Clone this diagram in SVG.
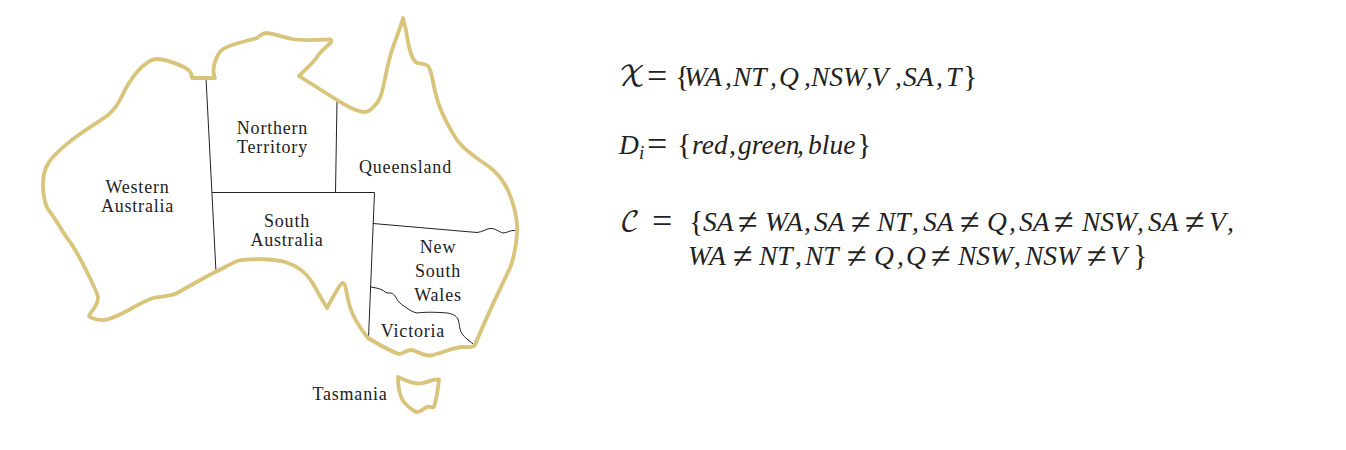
<svg xmlns="http://www.w3.org/2000/svg" width="1346" height="450" viewBox="0 0 1346 450">
<style>
.o{fill:none;stroke:#d9c47c;stroke-width:3.8;stroke-linejoin:round;stroke-linecap:round}
.b{fill:none;stroke:#222;stroke-width:1}
.l{font-family:"Liberation Serif",serif;font-size:18px;letter-spacing:.8px;fill:#222;text-anchor:middle}
.m{font-family:"Liberation Serif",serif;font-size:27.500px;fill:#222;font-style:italic}
.op{font-family:"Liberation Serif",serif;font-size:36px;fill:#222}
.br{font-family:"Liberation Serif",serif;font-size:30px;fill:#222}
.c{font-family:"DejaVu Math TeX Gyre","Liberation Serif",serif;font-style:normal}
</style>
<rect width="1346" height="450" fill="#fff"/>
<g id="borders">
<path class="b" d="M206 78L216 272"/>
<path class="b" d="M212 192.500H374.500L368.500 338"/>
<path class="b" d="M337 100L335.500 192.500"/>
<path class="b" d="M373 223.500L477 232.500C482 232 486 229 490 228.500C495 228 499 232 503 233C507 233 510 230 515 230.500"/>
<path class="b" d="M371 287C375 288 379 288 382 290C385 291 385 293 388 293C391 293 393 293 395 296C398 301 400 304 404 306C408 309 412 312 417 313C423 312 437 312 447 313C452 314 456 315 458 319C460 325 459 331 463 335C466 339 470 341 473 344"/>
</g>
<g id="mainland"><path class="o" d="M192 78L215 78C211 70 216 55 222 50C228 44 245 42 257 38C260 36 262 33 266 33C272 33 282 37 292 39C303 41 318 40 329 39.500C332 39.500 332 42 330 43.500C325 48 320 52 317 57C313 63 305 70 299 76L337 100C345 105 356 112 365 112C370 112 378 103 380 98C384 88 386 70 390 57C393 45 400 30 403 18C405 25 407 35 408 42C410 52 412 60 417 63C420 64 425 63 428 66C432 70 433 85 436 95C439 108 445 120 452 132C458 144 466 150 478 159C490 167 498 173 504 183C512 196 518 217 517 233C516 250 513 260 510 268C498 293 485 320 475 345C473 348 468 347 462 347C450 348 440 354 430 355.500C422 356 416 350 411 350C406 350 403 354 399 354C390 351 378 344 368 338C360 328 353 317 350 307C347 298 346 283 343 283C340 283 332 299 327 308C322 300 316 289 312 282C306 272 298 266 285 262C275 259 250 258 237 261C230 264 222 269 215 272C200 280 188 287 177 293C170 297 160 296 153 298C142 302 133 308 123 313C115 317 108 320 103 320C97 320 90 318 89 316C89 314 98 306 98 298C98 294 91 280 86 270C80 258 75 248 67 238C60 228 55 218 50 212C44 205 43 195 43 183C43 172 46 165 52 158C62 147 70 141 80 134C90 127 100 121 108 115C115 109 118 105 122 96C127 85 131 79 137 72C144 64 150 59 157 59C163 59 175 63 184 67C190 70 192 74 192 78Z"/></g>
<g id="tasmania"><path class="o" d="M398 377C405 380 411 383 418 383.500C425 384 431 379 439 379.500C438 388 437 398 434 407C431 408 429 406 427 407C423 409 420 412 416 412C411 409 405 405 402 399C399 393 398 385 398 377Z"/></g>
<g id="WA"><text class="l" x="137.500" y="193">Western</text><text class="l" x="137.500" y="212">Australia</text></g>
<g id="NT"><text class="l" x="272.500" y="133.500">Northern</text><text class="l" x="272.500" y="152.500">Territory</text></g>
<g id="Q"><text class="l" x="405.500" y="172.500">Queensland</text></g>
<g id="SA"><text class="l" x="287" y="227">South</text><text class="l" x="287" y="246">Australia</text></g>
<g id="NSW"><text class="l" x="438" y="252.500">New</text><text class="l" x="438" y="276.500">South</text><text class="l" x="438" y="300.500">Wales</text></g>
<g id="V"><text class="l" x="413" y="336.500">Victoria</text></g>
<g id="T"><text class="l" x="350" y="400">Tasmania</text></g>
<g id="equation-x">
<text class="m c" x="619" y="86">𝒳</text>
<text class="op" x="647" y="88">=</text>
<text class="br" x="675" y="86">{</text>
<text class="m" y="86"><tspan x="684">WA</tspan><tspan x="725">,</tspan><tspan x="733">NT</tspan><tspan x="770">,</tspan><tspan x="779">Q</tspan><tspan x="804">,</tspan><tspan x="811">NSW</tspan><tspan x="866">,</tspan><tspan x="871.500">V</tspan><tspan x="895">,</tspan><tspan x="903">SA</tspan><tspan x="936">,</tspan><tspan x="946">T</tspan></text>
<text class="br" x="963" y="86">}</text>
</g>
<g id="equation-d">
<text class="m" y="154"><tspan x="619">D</tspan><tspan x="639" dy="5" font-size="19">i</tspan></text>
<text class="op" x="647" y="156">=</text>
<text class="br" x="677" y="154">{</text>
<text class="m" y="154"><tspan x="692">red</tspan><tspan x="729">,</tspan><tspan x="738">green</tspan><tspan x="797">,</tspan><tspan x="808">blue</tspan></text>
<text class="br" x="857" y="154">}</text>
</g>
<g id="equation-c">
<text class="m c" x="620" y="231">𝒞</text>
<text class="op" x="652" y="233">=</text>
<text class="br" x="689" y="231">{</text>
<text class="m" y="231"><tspan x="703">SA</tspan><tspan x="765">WA</tspan><tspan x="804">,</tspan><tspan x="814">SA</tspan><tspan x="877">NT</tspan><tspan x="912">,</tspan><tspan x="923">SA</tspan><tspan x="987">Q</tspan><tspan x="1009">,</tspan><tspan x="1019">SA</tspan><tspan x="1082">NSW</tspan><tspan x="1137">,</tspan><tspan x="1148">SA</tspan><tspan x="1209">V</tspan><tspan x="1227">,</tspan></text>
<g class="op"><text x="738" y="233.500">≠</text><text x="851" y="233.500">≠</text><text x="960" y="233.500">≠</text><text x="1054" y="233.500">≠</text><text x="1185" y="233.500">≠</text></g>
<text class="m" y="265"><tspan x="688">WA</tspan><tspan x="759">NT</tspan><tspan x="795">,</tspan><tspan x="805">NT</tspan><tspan x="874">Q</tspan><tspan x="897">,</tspan><tspan x="906">Q</tspan><tspan x="958">NSW</tspan><tspan x="1014">,</tspan><tspan x="1025">NSW</tspan><tspan x="1110">V</tspan></text>
<g class="op"><text x="733" y="267.500">≠</text><text x="847" y="267.500">≠</text><text x="931" y="267.500">≠</text><text x="1087" y="267.500">≠</text></g>
<text class="br" x="1133" y="265">}</text>
</g>
</svg>
